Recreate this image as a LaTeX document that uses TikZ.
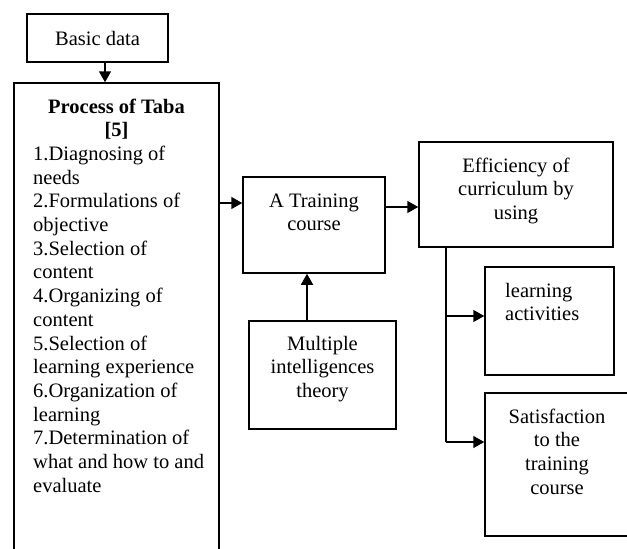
\documentclass[tikz,border=0pt]{standalone}
\usepackage{fontspec}
\setmainfont{Liberation Serif}
\usetikzlibrary{arrows.meta}
\begin{document}
\begin{tikzpicture}[x=1pt,y=-1pt,
  box/.style={draw, line width=1.5pt, inner sep=0pt},
  txt/.style={inner sep=0pt, font=\fontsize{20.5}{23.7}\selectfont},
  arr/.style={line width=1.5pt, -{Triangle[length=11pt,width=12pt]}},
  ln/.style={line width=1.5pt}]
\useasboundingbox (0,0) rectangle (627,549);
\clip (0,0) rectangle (627,549);
% boxes
\node[box, minimum width=141pt, minimum height=48pt] (basic) at (97.5,38) {};
\node[box, minimum width=205pt, minimum height=517pt] (taba) at (116.5,341.5) {};
\node[box, minimum width=142pt, minimum height=96pt] (tc) at (314,225) {};
\node[box, minimum width=147pt, minimum height=108pt] (mi) at (322.5,375) {};
\node[box, minimum width=194pt, minimum height=105pt] (eff) at (516,194.5) {};
\node[box, minimum width=129pt, minimum height=108pt] (la) at (549.5,321) {};
\node[box, minimum width=215pt, minimum height=143pt] (sat) at (592.5,464.5) {};
% texts
\node[txt, anchor=base] (tbasic) at (97.5,45) {Basic data};
\node[txt, anchor=base, font=\fontsize{20.5}{23.7}\selectfont\bfseries] (ttaba1) at (116.5,113) {Process of Taba};
\node[txt, anchor=base, font=\fontsize{20.5}{23.7}\selectfont\bfseries] (ttaba2) at (116.5,136.7) {[5]};
\foreach \t [count=\i] in {1.Diagnosing of, needs, 2.Formulations of, objective, 3.Selection of, content, 4.Organizing of, content, 5.Selection of, learning experience, 6.Organization of, learning, 7.Determination of, what and how to and, evaluate}
  \node[txt, anchor=base west] (tl\i) at (33,{136.7+\i*23.7}) {\t};
\node[txt, anchor=base] (ttc1) at (314,207) {A Training};
\node[txt, anchor=base] (ttc2) at (314,230.7) {course};
\node[txt, anchor=base] (tmi1) at (322.5,350) {Multiple};
\node[txt, anchor=base] (tmi2) at (322.5,373.7) {intelligences};
\node[txt, anchor=base] (tmi3) at (322.5,397.4) {theory};
\node[txt, anchor=base] (teff1) at (516,172) {Efficiency of};
\node[txt, anchor=base] (teff2) at (516,195.7) {curriculum by};
\node[txt, anchor=base] (teff3) at (516,219.4) {using};
\node[txt, anchor=base west] (tla1) at (505,297) {learning};
\node[txt, anchor=base west] (tla2) at (505,320.7) {activities};
\node[txt, anchor=base] (tsat1) at (557,423) {Satisfaction};
\node[txt, anchor=base] (tsat2) at (557,446.7) {to the};
\node[txt, anchor=base] (tsat3) at (557,470.4) {training};
\node[txt, anchor=base] (tsat4) at (557,494.1) {course};
% connectors
\coordinate (b0) at ([xshift=7.5pt]basic.south);
\coordinate (a1) at ([yshift=22pt]tc.west);
\coordinate (a2) at ([yshift=18pt]tc.east);
\coordinate (m0) at ([xshift=-15.5pt]mi.north);
\draw[arr] (b0) -- (b0 |- taba.north);
\draw[arr] (taba.east |- a1) -- (a1);
\draw[arr] (a2) -- (eff.west |- a2);
\draw[arr] (m0) -- (m0 |- tc.south);
\coordinate (v0) at ([xshift=-70pt]eff.south);
\coordinate (j1) at (446,316);
\coordinate (j2) at (446,442);
\draw[ln] (v0) -- (j2);
\draw[arr] (j1) -- (j1 -| la.west);
\draw[arr] (j2) -- (j2 -| sat.west);
\end{tikzpicture}
\end{document}
